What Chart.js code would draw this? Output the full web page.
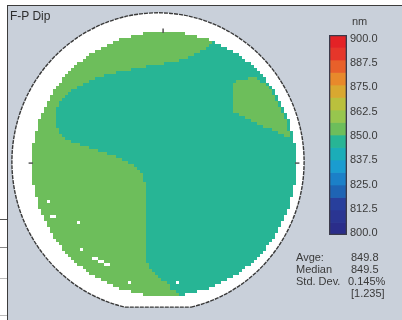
<!DOCTYPE html>
<html><head><meta charset="utf-8">
<script src="https://cdn.jsdelivr.net/npm/chart.js@4/dist/chart.umd.min.js"></script>
<style>
html,body{margin:0;padding:0;background:#fff;}
#wrap{position:relative;width:402px;height:320px;overflow:hidden;background:#fff;font-family:"Liberation Sans",Arial,sans-serif;}
#panel{position:absolute;left:7px;top:5px;right:0;bottom:0;background:#c9d0da;border-top:1px solid #3c3c3c;border-left:1px solid #3c3c3c;}
canvas{position:absolute;}
.t{position:absolute;font-size:11px;color:#3a3a3a;line-height:12px;white-space:nowrap;}
.ln{position:absolute;left:0;width:7px;height:1px;background:#aaa;}
</style></head>
<body><div id="wrap">
<div id="panel"></div>
<div class="ln" style="top:219px;background:#555"></div>
<div class="ln" style="top:247px;background:#888"></div>
<div class="ln" style="top:278px;background:#bbb"></div>
<div class="ln" style="top:315px;background:#bbb"></div>
<canvas id="wafer" width="402" height="320" style="left:0;top:0;width:402px;height:320px"></canvas>
<canvas id="bar" width="80" height="250" style="left:322px;top:0;width:80px;height:250px"></canvas>
<div class="t" style="left:10px;top:10px;font-size:12px;color:#2e2e2e">F-P Dip</div>
<div class="t" style="left:352px;top:15px">nm</div>
<div id="stats"></div>
</div>
<script>
// ---- colour scale (nm) ----
const colorbarTicks = ['900.0','887.5','875.0','862.5','850.0','837.5','825.0','812.5','800.0'];
const bandLow  = [893.75,887.5,881.25,875,868.75,862.5,856.25,850,843.75,837.5,831.25,825,818.75,812.5,806.25,800];
const bandHigh = [900,893.75,887.5,881.25,875,868.75,862.5,856.25,850,843.75,837.5,831.25,825,818.75,812.5,806.25];
const bandColors = ['#e42226','#e6362a','#e8602a','#e8892b','#d9a830','#bac03d','#97c64e','#6dbe5b','#27b595','#1badb8','#1a9cd0','#1b80c8','#1e64b4','#283f9c','#2a3592','#2a2d8a'];

// ---- statistics ----
const statLabels = ['Avge:','Median','Std. Dev.',''];
const statValues = ['849.8','849.5','0.145%','[1.235]'];

// ---- wafer map, 88 x 88 cells; classes ----
const rowStart = [37,33,29,27,25,23,21,19,18,17,15,14,13,12,11,10,10,9,8,7,7,6,6,5,5,4,4,3,3,2,2,2,2,1,1,1,1,0,0,0,0,0,0,0,
                  0,0,0,0,0,0,0,1,1,1,1,2,2,2,2,3,3,4,4,5,5,6,6,7,7,8,9,10,10,11,12,13,14,15,17,18,19,21,23,25,27,29,33,37];
const rowEnd   = [50,54,58,60,62,64,66,68,69,70,72,73,74,75,76,77,77,78,79,80,80,81,81,82,82,83,83,84,84,85,85,85,85,86,86,86,86,87,87,87,87,87,87,87,
                  87,87,87,87,87,87,87,86,86,86,86,85,85,85,85,84,84,83,83,82,82,81,81,80,80,79,78,77,77,76,75,74,73,72,70,69,68,66,64,62,60,58,54,50];
// first column of the low (<850 nm, teal) zone in each row; -1 = none
const tealStart = [-1,-1,-1,60,59,58,56,54,52,49,
                   44,38,33,28,24,21,19,17,15,13,
                   12,11,10,9,9,8,8,8,8,8,
                   8,8,9,9,10,11,13,16,19,22,
                   25,28,30,32,34,35,36,37,37,37,
                   38,38,38,38,38,38,38,38,38,38,
                   38,38,38,38,38,38,38,38,38,38,
                   38,38,38,38,38,38,38,39,39,40,
                   41,42,43,45,46,46,48,49];
// high (>=850 nm) island at the upper right
const blobRows  = [15,16,17,18,19,20,21,22,23,24,25,26,27,28,29,30,31,32,33,34];
const blobStart = [72,68,67,67,67,67,67,67,67,67,67,67,69,71,73,75,77,80,82,84];
const blobEnd   = [74,75,77,78,79,79,80,80,81,81,82,82,83,83,84,84,84,84,85,85];
// missing sites (white)
const missingCol = [5,6,7,15,16,20,21,22,23,24,25,32,48];
const missingRow = [56,61,61,63,72,75,75,76,76,77,77,83,83];
// orientation marks on the wafer edge
const markX = [-0.9,87.9,43.2];
const markY = [43.2,43.2,-0.9];
const markRot = [0,0,90];

// ---- layout constants (not data) ----
const GRID_MIN = -0.5, GRID_MAX = 87.5;
const RING = {cx:41.5, cy:42.8, rx:48.7, ry:49.7, flat:91.2};
const FONT = '"Liberation Sans", Arial, sans-serif';

const GREEN = bandColors[7], TEAL = bandColors[8];
const greenPts = [], tealPts = [], whitePts = [];
const missing = new Set(missingCol.map((c,i)=>c+','+missingRow[i]));
for (let r = 0; r < rowStart.length; r++) {
  const bi = blobRows.indexOf(r);
  for (let c = rowStart[r]; c <= rowEnd[r]; c++) {
    const p = {x:c, y:r};
    if (missing.has(c+','+r)) { whitePts.push(p); continue; }
    let teal = tealStart[r] >= 0 && c >= tealStart[r];
    if (bi >= 0 && c >= blobStart[bi] && c <= blobEnd[bi]) teal = false;
    (teal ? tealPts : greenPts).push(p);
  }
}
const markPts = markX.map((x,i)=>({x, y:markY[i]}));

const ringPlugin = {
  id:'ring',
  beforeDatasetsDraw(chart){
    const {ctx, scales:{x:xs, y:ys}} = chart;
    const cx = xs.getPixelForValue(RING.cx), cy = ys.getPixelForValue(RING.cy);
    const rx = Math.abs(xs.getPixelForValue(RING.cx+RING.rx)-cx);
    const ry = Math.abs(ys.getPixelForValue(RING.cy+RING.ry)-cy);
    const fy = ys.getPixelForValue(RING.flat);
    const a = Math.asin(Math.min(1,(fy-cy)/ry));
    ctx.save();
    ctx.beginPath();
    ctx.ellipse(cx, cy, rx, ry, 0, a, Math.PI - a, true);
    ctx.closePath();
    ctx.fillStyle = '#ffffff';
    ctx.fill();
    ctx.setLineDash([4,1]);
    ctx.lineWidth = 1.4;
    ctx.strokeStyle = '#3a3a3a';
    ctx.stroke();
    ctx.restore();
  }
};

const CELL_R = 3 / Math.SQRT2;
function cellSet(data, color){
  return {data, backgroundColor:color, pointStyle:'rect', pointRadius:CELL_R, pointHoverRadius:CELL_R, pointBorderWidth:0, clip:false};
}
new Chart(document.getElementById('wafer'), {
  type:'scatter',
  data:{datasets:[
    {data:markPts, pointStyle:'line', pointRadius:2.2, pointRotation:markRot, borderColor:'#555', pointBorderColor:'#555', pointBorderWidth:1.5, clip:false, order:0},
    Object.assign(cellSet(whitePts,'#ffffff'),{order:1}),
    Object.assign(cellSet(greenPts,GREEN),{order:2}),
    Object.assign(cellSet(tealPts,TEAL),{order:2})
  ]},
  options:{
    responsive:false, animation:false, events:[],
    layout:{padding:{left:32, top:32, right:106, bottom:24}},
    scales:{
      x:{type:'linear', min:GRID_MIN, max:GRID_MAX, display:false},
      y:{type:'linear', min:GRID_MIN, max:GRID_MAX, reverse:true, display:false}
    },
    plugins:{legend:{display:false}, tooltip:{enabled:false}}
  },
  plugins:[ringPlugin]
});

// ---- colour bar ----
const barSets = [{data:[[800,900]], backgroundColor:'rgba(0,0,0,0)', borderColor:'#3a3a4a', borderWidth:1, borderSkipped:false, grouped:false, order:0}];
bandColors.forEach((col,i)=>barSets.push({data:[[bandLow[i],bandHigh[i]]], backgroundColor:col, borderWidth:0, grouped:false, order:1}));
new Chart(document.getElementById('bar'), {
  type:'bar',
  data:{labels:['nm'], datasets:barSets},
  options:{
    responsive:false, animation:false, events:[],
    barPercentage:1, categoryPercentage:1,
    layout:{padding:{left:7, top:35, right:0, bottom:15}},
    scales:{
      x:{display:false},
      y:{display:false, min:800, max:900},
      yl:{position:'right', min:798.99, max:902.02,
         grid:{display:false, drawTicks:false}, border:{display:false},
         afterFit:(s)=>{ s.width = 55; },
         afterBuildTicks:(s)=>{ s.ticks = colorbarTicks.map(t=>({value:parseFloat(t), label:t})); },
         ticks:{padding:3, color:'#3a3a3a', font:{family:FONT, size:11}, callback:(v)=>v.toFixed(1)}}
    },
    plugins:{legend:{display:false}, tooltip:{enabled:false}}
  }
});

// ---- statistics text ----
const stats = document.getElementById('stats');
const statTop = [251,263,275,287];
statLabels.forEach((lab,i)=>{
  if (lab) { const d=document.createElement('div'); d.className='t'; d.style.left='296px'; d.style.top=statTop[i]+'px'; d.textContent=lab; stats.appendChild(d); }
  const v=document.createElement('div'); v.className='t'; v.style.left=(i===2?348:351)+'px'; v.style.top=statTop[i]+'px'; v.textContent=statValues[i]; stats.appendChild(v);
});
</script>
</body></html>
